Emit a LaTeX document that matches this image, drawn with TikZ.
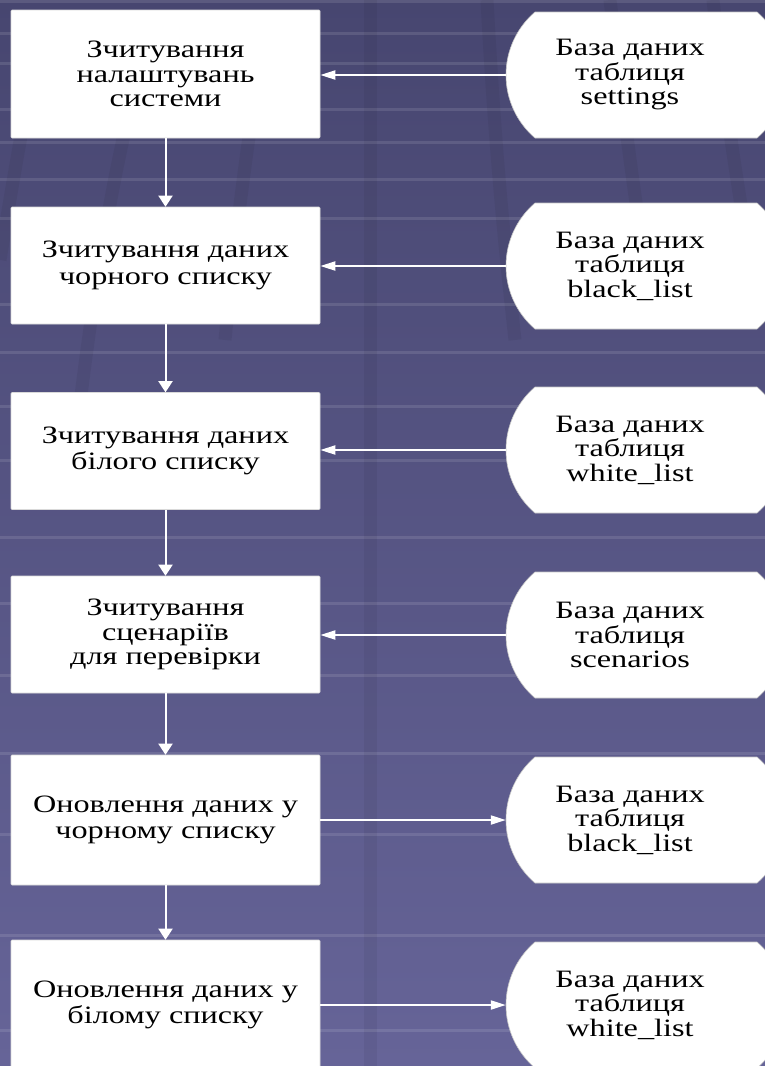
\documentclass[tikz,border=0pt]{standalone}
\usepackage{fontspec}
\setmainfont{Liberation Serif}[FakeStretch=1.29]
\usetikzlibrary{arrows.meta,calc}
\pgfdeclarelayer{back}
\pgfdeclarelayer{bg}
\pgfsetlayers{back,bg,main}
\definecolor{bgtop}{RGB}{71,70,112}
\definecolor{bgbot}{RGB}{102,100,152}
\begin{document}
\begin{tikzpicture}[x=1pt,y=-1pt,
  txt/.style={align=center, font=\fontsize{25}{24.5}\selectfont},
  wide/.style={font=\fontsize{25}{26.5}\selectfont},
  box/.style={txt, fill=white, draw=gray!30, line width=0.6pt, rounded corners=1pt, minimum width=309pt, inner sep=0pt},
  db/.style={txt, minimum width=248pt, minimum height=126pt, inner sep=0pt},
  dbshape/.style={fill=white, draw=gray!45, line width=0.6pt},
  flow/.style={white, line width=2pt, -{Triangle[length=11pt,width=14pt]}},
  link/.style={white, line width=2pt, -{Triangle[length=15pt,width=9pt]}},
  hline/.style={line width=3pt, white, opacity=0.11},
  stripe/.style={line width=13pt, black, opacity=0.05},
]
\useasboundingbox (0,0) rectangle (765,1066);
\begin{pgfonlayer}{back}
  \shade[top color=bgtop, bottom color=bgbot] (0,0) rectangle (765,1066);
  \foreach \y in {1,33,63,109,142,179,218,304,352,406,460,537,603,675,753,834,935,1030}
    \draw[hline] (0,\y) -- (765,\y);
  \draw[stripe] (370,0) -- (370,1066);
  \draw[stripe] (487,0) .. controls (495,150) and (505,250) .. (515,340);
  \draw[stripe] (610,0) .. controls (620,80) and (628,150) .. (640,230);
  \draw[stripe] (713,0) .. controls (722,80) and (732,150) .. (745,230);
  \draw[stripe] (22,130) .. controls (15,170) and (8,210) .. (0,260);
  \draw[stripe] (125,130) .. controls (105,220) and (90,320) .. (78,420);
  \draw[stripe] (250,130) .. controls (240,200) and (232,270) .. (225,340);
\end{pgfonlayer}

\node[box, minimum height=128pt] (b1) at (165.5,74) {Зчитування\\налаштувань\\системи};
\node[box, wide, minimum height=117pt] (b2) at (165.5,265.5) {Зчитування даних\\чорного списку};
\node[box, wide, minimum height=117pt] (b3) at (165.5,451) {Зчитування даних\\білого списку};
\node[box, minimum height=117pt] (b4) at (165.5,634.5) {Зчитування\\сценаріїв\\для перевірки};
\node[box, wide, minimum height=130pt] (b5) at (165.5,820) {Оновлення даних у\\чорному списку};
\node[box, wide, minimum height=130pt] (b6) at (165.5,1005) {Оновлення даних у\\білому списку};

\node[db] (d1) at (630,75) {База даних\\таблиця\\settings};
\node[db] (d2) at (630,266) {База даних\\таблиця\\black\_list};
\node[db] (d3) at (630,450) {База даних\\таблиця\\white\_list};
\node[db] (d4) at (630,635) {База даних\\таблиця\\scenarios};
\node[db] (d5) at (630,820) {База даних\\таблиця\\black\_list};
\node[db] (d6) at (630,1005) {База даних\\таблиця\\white\_list};

\begin{pgfonlayer}{bg}
  \foreach \i in {1,...,6}
    \path[dbshape] ($(d\i)+(-95,-63)$) -- ($(d\i)+(127,-63)$)
      .. controls ($(d\i)+(145.4,-47.2)$) and ($(d\i)+(156,-24.25)$) .. ($(d\i)+(156,0)$)
      .. controls ($(d\i)+(156,24.25)$) and ($(d\i)+(145.4,47.2)$) .. ($(d\i)+(127,63)$)
      -- ($(d\i)+(-95,63)$)
      .. controls ($(d\i)+(-113.4,47.2)$) and ($(d\i)+(-124,24.25)$) .. ($(d\i)+(-124,0)$)
      .. controls ($(d\i)+(-124,-24.25)$) and ($(d\i)+(-113.4,-47.2)$) .. cycle;
\end{pgfonlayer}

\draw[flow] (b1) -- (b2);
\draw[flow] (b2) -- (b3);
\draw[flow] (b3) -- (b4);
\draw[flow] (b4) -- (b5);
\draw[flow] (b5) -- (b6);

\draw[link] (d1.west) -- (d1.west -| b1.east);
\draw[link] (d2.west) -- (d2.west -| b2.east);
\draw[link] (d3.west) -- (d3.west -| b3.east);
\draw[link] (d4.west) -- (d4.west -| b4.east);
\draw[link] (b5.east) -- (b5.east -| d5.west);
\draw[link] (b6.east) -- (b6.east -| d6.west);
\end{tikzpicture}
\end{document}
